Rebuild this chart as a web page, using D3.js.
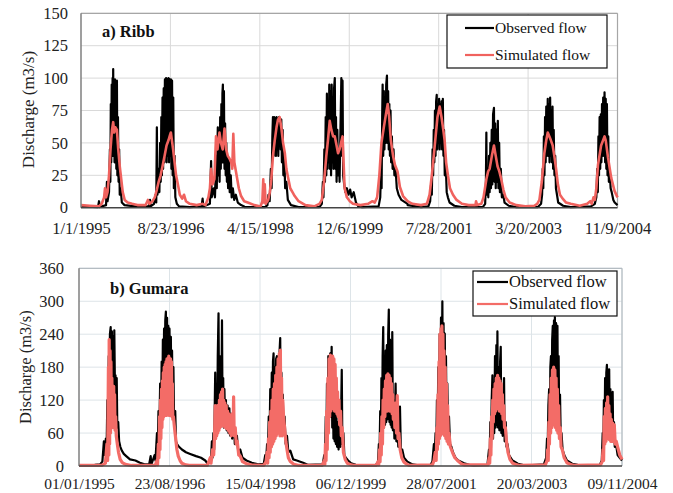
<!DOCTYPE html>
<html lang="en">
<head>
<meta charset="utf-8">
<style>
  body { margin: 0; background: white; }
  svg { font-family: "Liberation Serif", "Times New Roman", serif; display: block; }
  .grid line { stroke: #d9d9d9; stroke-width: 1; }
  .gridB line { stroke: #dde4e8; stroke-width: 1; }
  .axis text { fill: #222; }
</style>
</head>
<body>
<svg width="673" height="493"></svg>
<script src="https://d3js.org/d3.v7.min.js"></script>
<script>
// ---- data ([date, m3/s]) ----
const ribbObserved = [
  ["1995-01-01",1],["1995-04-25",0.5],["1995-05-02",5],["1995-05-06",0.5],["1995-06-18",2],["1995-06-24",20],["1995-06-28",5],["1995-07-08",12],["1995-07-14",45],["1995-07-17",20],["1995-07-20",80],["1995-07-23",35],["1995-07-26",95],["1995-07-29",45],["1995-08-01",100],["1995-08-03",40],["1995-08-05",107],["1995-08-08",45],["1995-08-11",98],["1995-08-14",35],["1995-08-17",99],["1995-08-20",40],["1995-08-23",95],["1995-08-26",30],["1995-08-30",98],["1995-09-02",25],["1995-09-06",70],["1995-09-10",20],["1995-09-14",45],["1995-09-18",10],["1995-09-24",15],["1995-10-02",4],["1995-10-20",2],["1995-12-31",1],
  ["1996-04-02",1],["1996-04-08",6],["1996-04-12",1],["1996-05-05",3],["1996-05-15",10],["1996-05-20",4],["1996-05-24",62],["1996-05-28",10],["1996-06-05",30],["1996-06-10",12],["1996-06-15",50],["1996-06-19",20],["1996-06-23",70],["1996-06-27",25],["1996-07-01",85],["1996-07-05",30],["1996-07-09",92],["1996-07-13",35],["1996-07-17",99],["1996-07-21",40],["1996-07-25",100],["1996-07-29",35],["1996-08-02",99],["1996-08-06",40],["1996-08-10",100],["1996-08-14",35],["1996-08-18",99],["1996-08-22",40],["1996-08-26",99],["1996-08-30",30],["1996-09-03",98],["1996-09-07",25],["1996-09-11",85],["1996-09-15",15],["1996-09-20",40],["1996-09-25",8],["1996-10-05",3],["1996-10-20",1],["1996-12-31",0.5],
  ["1997-03-20",1],["1997-03-27",7],["1997-04-01",1],["1997-05-15",3],["1997-05-23",36],["1997-05-27",8],["1997-06-10",15],["1997-06-18",8],["1997-06-26",40],["1997-06-30",15],["1997-07-04",45],["1997-07-07",62],["1997-07-11",25],["1997-07-15",55],["1997-07-19",20],["1997-07-23",70],["1997-07-27",30],["1997-07-31",80],["1997-08-04",35],["1997-08-07",88],["1997-08-10",95],["1997-08-13",35],["1997-08-17",90],["1997-08-21",30],["1997-08-25",65],["1997-08-29",25],["1997-09-02",50],["1997-09-06",20],["1997-09-10",40],["1997-09-14",15],["1997-09-20",38],["1997-09-25",12],["1997-10-02",25],["1997-10-08",8],["1997-10-16",15],["1997-10-25",6],["1997-11-05",10],["1997-11-18",4],["1997-12-10",2],["1997-12-31",1],
  ["1998-01-01",0.5],["1998-05-20",0.5],["1998-06-05",2],["1998-06-12",10],["1998-06-20",5],["1998-06-28",30],["1998-07-03",15],["1998-07-08",55],["1998-07-12",70],["1998-07-16",40],["1998-07-20",70],["1998-07-24",45],["1998-07-28",69],["1998-08-01",40],["1998-08-05",70],["1998-08-09",45],["1998-08-13",68],["1998-08-17",40],["1998-08-21",70],["1998-08-25",50],["1998-08-29",69],["1998-09-02",45],["1998-09-06",68],["1998-09-10",35],["1998-09-15",60],["1998-09-20",25],["1998-09-26",40],["1998-10-02",15],["1998-10-10",20],["1998-10-20",6],["1998-11-10",2],["1998-12-31",0.5],
  ["1999-01-01",0.5],["1999-05-20",0.5],["1999-06-05",3],["1999-06-12",20],["1999-06-16",8],["1999-06-22",45],["1999-06-26",20],["1999-07-01",70],["1999-07-05",25],["1999-07-09",88],["1999-07-13",30],["1999-07-17",80],["1999-07-21",35],["1999-07-25",95],["1999-07-29",30],["1999-08-02",90],["1999-08-06",25],["1999-08-10",95],["1999-08-14",35],["1999-08-18",85],["1999-08-22",30],["1999-08-26",92],["1999-08-31",100],["1999-09-04",30],["1999-09-08",70],["1999-09-12",20],["1999-09-17",60],["1999-09-22",25],["1999-09-28",45],["1999-10-02",20],["1999-10-08",60],["1999-10-14",100],["1999-10-18",40],["1999-10-22",98],["1999-10-26",25],["1999-11-02",18],["1999-11-10",12],["1999-11-20",15],["1999-12-01",10],["1999-12-12",14],["1999-12-22",8],["2000-01-05",12],["2000-01-20",4],["2000-02-05",1],
  ["2000-03-01",0.5],["2000-06-20",1],["2000-07-01",8],["2000-07-06",30],["2000-07-10",15],["2000-07-14",70],["2000-07-17",95],["2000-07-21",40],["2000-07-25",90],["2000-07-29",45],["2000-08-02",85],["2000-08-06",50],["2000-08-10",95],["2000-08-15",102],["2000-08-19",50],["2000-08-23",90],["2000-08-27",45],["2000-08-31",80],["2000-09-04",40],["2000-09-08",75],["2000-09-12",35],["2000-09-17",55],["2000-09-22",30],["2000-09-28",45],["2000-10-04",25],["2000-10-12",30],["2000-10-20",15],["2000-11-01",10],["2000-11-20",6],["2000-12-31",3],
  ["2001-01-01",2],["2001-04-01",0.5],["2001-05-20",1],["2001-06-01",5],["2001-06-08",20],["2001-06-12",10],["2001-06-17",45],["2001-06-21",25],["2001-06-25",60],["2001-06-29",35],["2001-07-03",75],["2001-07-07",40],["2001-07-11",82],["2001-07-15",87],["2001-07-19",45],["2001-07-23",80],["2001-07-27",50],["2001-07-31",84],["2001-08-04",45],["2001-08-08",80],["2001-08-12",50],["2001-08-16",82],["2001-08-20",45],["2001-08-25",84],["2001-08-29",40],["2001-09-02",60],["2001-09-07",25],["2001-09-13",35],["2001-09-20",12],["2001-09-28",8],["2001-10-09",4],["2001-11-10",1.5],["2001-12-31",0.5],
  ["2002-01-01",0.5],["2002-05-20",0.5],["2002-06-05",3],["2002-06-10",20],["2002-06-13",58],["2002-06-16",10],["2002-06-22",30],["2002-06-26",8],["2002-07-01",40],["2002-07-05",12],["2002-07-10",50],["2002-07-14",15],["2002-07-19",60],["2002-07-23",18],["2002-07-28",72],["2002-08-03",77],["2002-08-07",20],["2002-08-11",65],["2002-08-15",15],["2002-08-20",60],["2002-08-24",20],["2002-08-29",67],["2002-09-02",15],["2002-09-07",50],["2002-09-12",12],["2002-09-18",30],["2002-09-25",8],["2002-10-05",10],["2002-10-13",4],["2002-11-10",1.5],["2002-12-31",0.5],
  ["2003-01-01",0.5],["2003-05-25",0.5],["2003-06-15",3],["2003-06-22",10],["2003-06-26",30],["2003-06-30",15],["2003-07-04",55],["2003-07-08",25],["2003-07-12",70],["2003-07-16",35],["2003-07-20",78],["2003-07-24",40],["2003-07-30",84],["2003-08-03",40],["2003-08-07",80],["2003-08-11",35],["2003-08-15",85],["2003-08-19",40],["2003-08-23",75],["2003-08-27",35],["2003-08-31",78],["2003-09-04",30],["2003-09-08",60],["2003-09-13",25],["2003-09-18",40],["2003-09-23",15],["2003-09-30",10],["2003-10-08",4],["2003-11-10",1.5],["2003-12-31",0.5],
  ["2004-01-01",0.5],["2004-05-15",1],["2004-06-10",3],["2004-06-20",8],["2004-06-26",30],["2004-06-30",12],["2004-07-04",55],["2004-07-08",25],["2004-07-12",70],["2004-07-16",30],["2004-07-20",72],["2004-07-24",35],["2004-07-28",80],["2004-08-01",40],["2004-08-05",85],["2004-08-09",40],["2004-08-14",89],["2004-08-18",35],["2004-08-22",84],["2004-08-26",30],["2004-08-30",80],["2004-09-03",25],["2004-09-08",55],["2004-09-12",20],["2004-09-17",30],["2004-09-24",15],["2004-10-01",12],["2004-10-12",6],["2004-10-21",4],["2004-11-09",2]
];

const ribbSimulated = [
  ["1995-01-01",2],["1995-03-01",1.5],["1995-05-01",1],["1995-05-20",3],["1995-06-05",8],["1995-06-11",15],["1995-06-18",8],["1995-06-28",12],["1995-07-08",25],["1995-07-18",45],["1995-07-28",60],["1995-08-05",66],["1995-08-12",58],["1995-08-20",62],["1995-08-30",60],["1995-09-08",45],["1995-09-18",32],["1995-09-28",22],["1995-10-08",12],["1995-10-21",6],["1995-11-10",4],["1995-12-10",3],["1995-12-31",2.5],
  ["1996-01-15",2],["1996-03-10",2],["1996-03-25",6],["1996-04-05",3],["1996-04-25",5],["1996-05-10",8],["1996-05-24",14],["1996-06-05",20],["1996-06-18",25],["1996-07-01",32],["1996-07-15",40],["1996-07-28",48],["1996-08-10",52],["1996-08-20",56],["1996-08-26",58],["1996-09-02",52],["1996-09-10",45],["1996-09-20",35],["1996-09-30",25],["1996-10-12",18],["1996-10-25",10],["1996-11-10",7],["1996-11-22",10],["1996-12-05",5],["1996-12-31",3],
  ["1997-02-15",2],["1997-03-27",3],["1997-04-15",2],["1997-05-05",8],["1997-05-15",15],["1997-05-23",30],["1997-06-02",18],["1997-06-14",22],["1997-06-25",55],["1997-07-05",45],["1997-07-18",58],["1997-07-28",50],["1997-08-09",45],["1997-08-21",61],["1997-09-01",45],["1997-09-12",40],["1997-09-23",38],["1997-10-05",35],["1997-10-12",30],["1997-10-19",57],["1997-10-26",35],["1997-11-10",25],["1997-11-25",15],["1997-12-10",9],["1997-12-31",5],
  ["1998-01-24",4],["1998-03-10",2],["1998-04-20",1],["1998-05-02",5],["1998-05-08",22],["1998-05-12",4],["1998-05-18",18],["1998-05-24",3],["1998-06-10",6],["1998-06-21",12],["1998-07-01",22],["1998-07-12",40],["1998-07-24",52],["1998-08-05",62],["1998-08-15",68],["1998-08-26",70],["1998-09-06",62],["1998-09-18",50],["1998-09-30",42],["1998-10-10",30],["1998-10-20",24],["1998-11-05",15],["1998-11-20",12],["1998-12-05",9],["1998-12-31",5],
  ["1999-02-15",2],["1999-04-15",1],["1999-05-20",3],["1999-06-05",6],["1999-06-20",20],["1999-07-05",40],["1999-07-16",52],["1999-07-28",67],["1999-08-08",60],["1999-08-20",55],["1999-08-31",55],["1999-09-12",48],["1999-09-22",42],["1999-10-02",45],["1999-10-12",50],["1999-10-22",55],["1999-10-29",35],["1999-11-05",15],["1999-11-20",8],["1999-12-10",5],["1999-12-31",3],
  ["2000-02-20",2],["2000-04-10",3],["2000-05-10",5],["2000-05-25",4],["2000-06-10",8],["2000-06-25",25],["2000-07-09",50],["2000-07-25",62],["2000-08-08",72],["2000-08-20",80],["2000-08-30",70],["2000-09-10",52],["2000-09-25",40],["2000-10-08",33],["2000-10-25",28],["2000-11-10",16],["2000-12-01",9],["2000-12-31",5],
  ["2001-02-01",3],["2001-04-01",2],["2001-05-10",3],["2001-05-28",10],["2001-06-12",25],["2001-06-25",40],["2001-07-05",52],["2001-07-20",70],["2001-08-04",78],["2001-08-16",70],["2001-08-28",60],["2001-09-06",52],["2001-09-16",35],["2001-09-28",25],["2001-10-12",15],["2001-11-01",10],["2001-11-25",6],["2001-12-31",3],
  ["2002-02-15",2],["2002-04-01",2],["2002-04-05",5],["2002-04-12",2],["2002-05-10",3],["2002-05-25",8],["2002-06-13",22],["2002-06-25",28],["2002-07-05",30],["2002-07-20",40],["2002-08-03",48],["2002-08-15",40],["2002-08-27",32],["2002-09-08",28],["2002-09-21",22],["2002-10-05",14],["2002-10-20",8],["2002-11-16",4],["2002-12-31",2],
  ["2003-03-01",1],["2003-05-01",1.5],["2003-05-20",3],["2003-06-04",6],["2003-06-20",20],["2003-07-07",42],["2003-07-20",52],["2003-07-30",58],["2003-08-10",55],["2003-08-20",52],["2003-09-01",48],["2003-09-12",40],["2003-09-24",30],["2003-10-06",18],["2003-10-20",10],["2003-11-07",7],["2003-11-30",4],["2003-12-31",3],
  ["2004-03-01",1.5],["2004-04-20",3],["2004-05-10",5],["2004-05-20",3],["2004-06-01",8],["2004-06-10",6],["2004-06-20",15],["2004-07-01",33],["2004-07-22",48],["2004-08-14",55],["2004-08-22",52],["2004-09-06",39],["2004-09-28",23],["2004-10-20",13],["2004-11-09",8]
];

const gumaraObserved = [
  ["1995-01-01",0],["1995-03-01",1],["1995-04-15",2],["1995-05-20",3],["1995-06-05",8],["1995-06-15",45],["1995-06-20",20],["1995-06-28",50],["1995-07-03",30],["1995-07-08",120],["1995-07-12",60],["1995-07-17",200],["1995-07-21",100],["1995-07-25",240],["1995-07-30",253],["1995-08-03",120],["1995-08-07",245],["1995-08-11",110],["1995-08-15",235],["1995-08-19",100],["1995-08-23",247],["1995-08-27",150],["1995-08-31",165],["1995-09-04",90],["1995-09-08",160],["1995-09-12",70],["1995-09-18",80],["1995-09-24",45],["1995-10-02",35],["1995-10-12",28],["1995-10-25",22],["1995-11-10",18],["1995-12-05",12],["1996-01-10",10],["1996-02-09",6],["1996-03-10",3],
  ["1996-04-10",3],["1996-04-20",18],["1996-04-25",3],["1996-05-16",20],["1996-05-22",10],["1996-06-01",60],["1996-06-06",30],["1996-06-11",100],["1996-06-16",50],["1996-06-22",150],["1996-06-27",80],["1996-07-02",190],["1996-07-06",100],["1996-07-10",230],["1996-07-14",120],["1996-07-18",250],["1996-07-22",130],["1996-07-26",265],["1996-07-30",281],["1996-08-03",140],["1996-08-07",270],["1996-08-11",130],["1996-08-15",255],["1996-08-19",120],["1996-08-23",250],["1996-08-28",110],["1996-09-01",235],["1996-09-05",100],["1996-09-09",210],["1996-09-13",90],["1996-09-18",180],["1996-09-23",70],["1996-09-30",100],["1996-10-05",45],["1996-10-12",40],["1996-10-25",35],["1996-11-13",30],["1996-12-10",25],["1997-01-07",22],["1997-02-15",18],["1997-03-20",15],["1997-04-17",10],["1997-05-01",5],
  ["1997-05-25",10],["1997-05-31",45],["1997-06-04",15],["1997-06-10",60],["1997-06-15",30],["1997-06-22",170],["1997-06-26",60],["1997-07-01",150],["1997-07-05",70],["1997-07-09",200],["1997-07-14",278],["1997-07-18",100],["1997-07-22",200],["1997-07-26",90],["1997-07-30",180],["1997-08-02",100],["1997-08-06",265],["1997-08-10",80],["1997-08-14",160],["1997-08-18",70],["1997-08-22",140],["1997-08-27",80],["1997-09-01",120],["1997-09-06",65],["1997-09-12",110],["1997-09-18",60],["1997-09-24",105],["1997-09-30",55],["1997-10-06",95],["1997-10-12",50],["1997-10-22",85],["1997-10-30",40],["1997-11-13",55],["1997-11-22",25],["1997-12-05",30],["1997-12-20",15],["1998-01-15",10],["1998-02-20",6],["1998-03-20",4],
  ["1998-04-01",3],["1998-05-10",4],["1998-05-20",20],["1998-05-25",8],["1998-06-01",40],["1998-06-06",20],["1998-06-12",90],["1998-06-17",40],["1998-06-22",140],["1998-06-27",60],["1998-07-02",170],["1998-07-06",70],["1998-07-10",190],["1998-07-14",205],["1998-07-18",80],["1998-07-22",180],["1998-07-26",85],["1998-07-31",195],["1998-08-05",200],["1998-08-09",85],["1998-08-14",180],["1998-08-18",80],["1998-08-23",210],["1998-08-27",233],["1998-08-31",85],["1998-09-04",170],["1998-09-08",75],["1998-09-13",130],["1998-09-18",60],["1998-09-25",90],["1998-10-02",40],["1998-10-11",55],["1998-10-20",25],["1998-11-02",28],["1998-11-21",12],["1998-12-15",10],["1999-01-26",6],["1999-03-01",2],
  ["1999-06-05",3],["1999-06-15",20],["1999-06-20",10],["1999-06-25",90],["1999-06-29",40],["1999-07-03",150],["1999-07-07",60],["1999-07-12",200],["1999-07-16",80],["1999-07-20",190],["1999-07-25",205],["1999-07-29",90],["1999-08-03",217],["1999-08-07",70],["1999-08-11",150],["1999-08-15",50],["1999-08-19",120],["1999-08-23",45],["1999-08-27",100],["1999-08-31",40],["1999-09-04",90],["1999-09-08",35],["1999-09-13",80],["1999-09-18",30],["1999-09-24",70],["1999-09-30",35],["1999-10-05",100],["1999-10-09",175],["1999-10-13",40],["1999-10-20",60],["1999-10-26",20],["1999-11-05",15],["1999-11-20",10],["1999-12-10",5],["2000-01-10",2],
  ["2000-03-01",1],["2000-05-20",2],["2000-06-05",5],["2000-06-11",40],["2000-06-15",15],["2000-06-20",100],["2000-06-24",40],["2000-06-28",160],["2000-07-02",60],["2000-07-06",200],["2000-07-10",253],["2000-07-14",70],["2000-07-18",180],["2000-07-22",75],["2000-07-26",210],["2000-07-30",80],["2000-08-03",220],["2000-08-07",85],["2000-08-12",240],["2000-08-16",285],["2000-08-20",80],["2000-08-24",230],["2000-08-28",75],["2000-09-01",200],["2000-09-04",70],["2000-09-08",244],["2000-09-12",65],["2000-09-17",120],["2000-09-22",50],["2000-09-30",150],["2000-10-05",45],["2000-10-12",80],["2000-10-18",35],["2000-10-29",108],["2000-11-04",25],["2000-11-13",30],["2000-11-25",15],["2000-12-17",8],["2001-01-20",3],
  ["2001-03-01",1],["2001-05-20",2],["2001-06-01",8],["2001-06-11",40],["2001-06-15",10],["2001-06-22",60],["2001-06-26",25],["2001-07-01",120],["2001-07-05",50],["2001-07-10",180],["2001-07-14",80],["2001-07-19",240],["2001-07-23",100],["2001-07-28",270],["2001-08-01",110],["2001-08-06",300],["2001-08-10",120],["2001-08-14",260],["2001-08-18",110],["2001-08-22",241],["2001-08-26",100],["2001-08-30",200],["2001-09-03",80],["2001-09-08",150],["2001-09-13",60],["2001-09-19",90],["2001-09-26",40],["2001-10-05",35],["2001-10-15",25],["2001-11-01",15],["2001-11-20",10],["2001-12-28",5],["2002-02-01",2],
  ["2002-03-01",1],["2002-06-01",2],["2002-06-11",30],["2002-06-15",10],["2002-06-20",80],["2002-06-24",30],["2002-06-29",120],["2002-07-04",165],["2002-07-08",50],["2002-07-12",150],["2002-07-16",60],["2002-07-21",200],["2002-07-25",70],["2002-07-30",220],["2002-08-03",75],["2002-08-06",245],["2002-08-10",70],["2002-08-15",180],["2002-08-19",65],["2002-08-24",190],["2002-08-28",217],["2002-09-01",60],["2002-09-06",130],["2002-09-10",55],["2002-09-15",120],["2002-09-19",160],["2002-09-23",45],["2002-09-30",80],["2002-10-05",35],["2002-10-12",40],["2002-10-22",20],["2002-11-14",10],["2002-12-20",4],["2003-01-20",2],
  ["2003-03-01",1],["2003-06-10",3],["2003-06-25",15],["2003-07-01",50],["2003-07-05",25],["2003-07-10",110],["2003-07-15",140],["2003-07-19",60],["2003-07-23",180],["2003-07-27",200],["2003-07-31",80],["2003-08-04",230],["2003-08-08",255],["2003-08-12",90],["2003-08-16",265],["2003-08-20",100],["2003-08-22",271],["2003-08-26",95],["2003-08-30",260],["2003-09-03",90],["2003-09-08",255],["2003-09-12",80],["2003-09-16",200],["2003-09-20",70],["2003-09-25",130],["2003-09-30",50],["2003-10-05",60],["2003-10-12",30],["2003-10-23",20],["2003-11-10",10],["2003-12-15",4],["2004-01-20",2],
  ["2004-03-01",1],["2004-06-15",2],["2004-06-28",10],["2004-07-04",60],["2004-07-08",30],["2004-07-12",120],["2004-07-16",50],["2004-07-20",160],["2004-07-24",60],["2004-07-28",170],["2004-08-01",184],["2004-08-05",65],["2004-08-09",175],["2004-08-13",60],["2004-08-16",176],["2004-08-20",55],["2004-08-24",140],["2004-08-28",50],["2004-09-02",110],["2004-09-08",135],["2004-09-12",45],["2004-09-17",80],["2004-09-22",35],["2004-09-30",40],["2004-10-11",20],["2004-10-25",15],["2004-11-09",10]
];

const gumaraSimulated = [
  ["1995-01-01",1],["1995-06-01",1],["1995-06-25",5],["1995-07-05",40],["1995-07-10",10],["1995-07-15",180],["1995-07-18",20],["1995-07-20",230],["1995-07-23",40],["1995-07-26",210],["1995-07-29",60],["1995-08-01",190],["1995-08-04",70],["1995-08-07",160],["1995-08-10",70],["1995-08-13",140],["1995-08-16",72],["1995-08-19",145],["1995-08-22",70],["1995-08-25",130],["1995-08-28",65],["1995-09-01",90],["1995-09-05",55],["1995-09-12",40],["1995-09-20",25],["1995-10-01",12],["1995-10-15",6],["1995-11-05",3],["1995-12-15",1],
  ["1996-01-01",1],["1996-05-20",1],["1996-06-01",10],["1996-06-05",2],["1996-06-10",40],["1996-06-14",15],["1996-06-18",90],["1996-06-21",30],["1996-06-24",120],["1996-06-27",50],["1996-07-01",140],["1996-07-04",70],["1996-07-07",155],["1996-07-10",85],["1996-07-13",170],["1996-07-16",90],["1996-07-19",180],["1996-07-22",92],["1996-07-25",185],["1996-07-28",92],["1996-07-31",190],["1996-08-03",92],["1996-08-06",195],["1996-08-09",93],["1996-08-12",195],["1996-08-15",93],["1996-08-18",200],["1996-08-21",92],["1996-08-24",195],["1996-08-27",92],["1996-08-30",195],["1996-09-02",92],["1996-09-05",190],["1996-09-08",90],["1996-09-11",150],["1996-09-14",85],["1996-09-18",90],["1996-09-25",70],["1996-10-03",50],["1996-10-11",30],["1996-10-20",18],["1996-11-01",10],["1996-11-13",5],["1996-12-10",2],["1996-12-31",1],
  ["1997-05-01",1],["1997-05-20",15],["1997-05-25",5],["1997-06-05",30],["1997-06-12",20],["1997-06-18",60],["1997-06-22",110],["1997-06-25",50],["1997-06-28",105],["1997-07-02",55],["1997-07-06",110],["1997-07-09",60],["1997-07-14",110],["1997-07-17",65],["1997-07-20",120],["1997-07-23",70],["1997-07-27",130],["1997-07-30",72],["1997-08-03",135],["1997-08-06",75],["1997-08-10",140],["1997-08-13",75],["1997-08-17",120],["1997-08-20",72],["1997-08-25",115],["1997-08-29",70],["1997-09-03",110],["1997-09-07",68],["1997-09-12",100],["1997-09-16",65],["1997-09-22",95],["1997-09-27",60],["1997-10-02",85],["1997-10-07",55],["1997-10-13",95],["1997-10-18",60],["1997-10-22",126],["1997-10-26",55],["1997-11-02",70],["1997-11-08",40],["1997-11-15",45],["1997-11-25",20],["1997-12-05",18],["1997-12-20",8],["1998-01-17",4],["1998-02-15",2],
  ["1998-05-10",1],["1998-05-25",8],["1998-06-01",25],["1998-06-05",5],["1998-06-10",50],["1998-06-14",15],["1998-06-18",80],["1998-06-22",25],["1998-06-26",100],["1998-06-30",35],["1998-07-04",120],["1998-07-08",40],["1998-07-12",140],["1998-07-16",45],["1998-07-20",150],["1998-07-24",50],["1998-07-28",165],["1998-08-01",55],["1998-08-05",180],["1998-08-09",60],["1998-08-13",195],["1998-08-17",60],["1998-08-21",205],["1998-08-25",55],["1998-08-28",211],["1998-09-01",60],["1998-09-05",160],["1998-09-09",55],["1998-09-13",120],["1998-09-18",90],["1998-09-25",70],["1998-10-03",45],["1998-10-11",30],["1998-10-20",15],["1998-11-02",8],["1998-11-25",3],["1998-12-31",1],
  ["1999-06-01",1],["1999-06-15",10],["1999-06-19",3],["1999-06-23",40],["1999-06-27",10],["1999-07-01",100],["1999-07-05",30],["1999-07-09",160],["1999-07-13",60],["1999-07-17",195],["1999-07-21",90],["1999-07-25",202],["1999-07-29",100],["1999-08-02",200],["1999-08-06",105],["1999-08-10",200],["1999-08-14",105],["1999-08-18",195],["1999-08-22",100],["1999-08-26",185],["1999-08-30",100],["1999-09-03",160],["1999-09-07",95],["1999-09-11",135],["1999-09-15",90],["1999-09-20",120],["1999-09-25",75],["1999-10-01",100],["1999-10-06",55],["1999-10-12",70],["1999-10-20",25],["1999-11-01",12],["1999-11-15",5],["1999-12-10",2],["1999-12-31",1],
  ["2000-05-25",1],["2000-06-05",8],["2000-06-10",2],["2000-06-15",30],["2000-06-19",8],["2000-06-23",60],["2000-06-27",20],["2000-07-01",90],["2000-07-05",40],["2000-07-09",120],["2000-07-13",70],["2000-07-17",140],["2000-07-21",90],["2000-07-25",155],["2000-07-29",100],["2000-08-02",165],["2000-08-06",100],["2000-08-10",168],["2000-08-14",102],["2000-08-18",165],["2000-08-22",100],["2000-08-26",160],["2000-08-30",100],["2000-09-03",150],["2000-09-07",95],["2000-09-11",130],["2000-09-15",85],["2000-09-20",110],["2000-09-25",70],["2000-10-01",115],["2000-10-06",60],["2000-10-11",128],["2000-10-16",50],["2000-10-22",60],["2000-10-30",30],["2000-11-10",15],["2000-11-25",7],["2000-12-15",3],["2000-12-31",1],
  ["2001-06-01",2],["2001-06-12",10],["2001-06-20",25],["2001-06-26",10],["2001-07-01",70],["2001-07-04",30],["2001-07-08",130],["2001-07-11",40],["2001-07-15",190],["2001-07-18",50],["2001-07-21",240],["2001-07-24",55],["2001-07-28",250],["2001-07-31",60],["2001-08-03",255],["2001-08-06",60],["2001-08-10",240],["2001-08-13",58],["2001-08-17",210],["2001-08-21",55],["2001-08-25",180],["2001-08-29",50],["2001-09-02",150],["2001-09-06",45],["2001-09-10",110],["2001-09-15",40],["2001-09-19",60],["2001-09-28",35],["2001-10-12",25],["2001-10-28",15],["2001-11-14",10],["2001-12-10",4],["2001-12-31",2],
  ["2002-06-05",2],["2002-06-12",15],["2002-06-16",5],["2002-06-20",50],["2002-06-24",20],["2002-06-28",90],["2002-07-02",50],["2002-07-06",120],["2002-07-10",80],["2002-07-14",140],["2002-07-18",95],["2002-07-22",150],["2002-07-26",100],["2002-07-30",160],["2002-08-03",105],["2002-08-07",165],["2002-08-11",105],["2002-08-15",160],["2002-08-19",100],["2002-08-23",155],["2002-08-27",100],["2002-08-31",150],["2002-09-04",95],["2002-09-08",130],["2002-09-12",85],["2002-09-17",110],["2002-09-22",70],["2002-09-28",70],["2002-10-05",45],["2002-10-15",25],["2002-10-28",12],["2002-11-15",5],["2002-12-15",2],["2002-12-31",1],
  ["2003-06-20",2],["2003-07-01",10],["2003-07-05",30],["2003-07-09",10],["2003-07-13",80],["2003-07-17",40],["2003-07-21",130],["2003-07-25",60],["2003-07-29",160],["2003-08-02",70],["2003-08-06",175],["2003-08-10",75],["2003-08-14",180],["2003-08-18",75],["2003-08-22",175],["2003-08-26",70],["2003-08-30",160],["2003-09-03",65],["2003-09-07",140],["2003-09-11",60],["2003-09-16",110],["2003-09-21",50],["2003-09-27",70],["2003-10-02",35],["2003-10-10",30],["2003-10-23",15],["2003-11-10",6],["2003-12-10",2],["2003-12-31",1],
  ["2004-06-20",2],["2004-07-01",8],["2004-07-06",30],["2004-07-10",10],["2004-07-14",90],["2004-07-18",40],["2004-07-22",105],["2004-07-26",45],["2004-07-30",115],["2004-08-03",50],["2004-08-06",126],["2004-08-10",50],["2004-08-14",110],["2004-08-18",48],["2004-08-22",95],["2004-08-26",45],["2004-08-30",85],["2004-09-03",45],["2004-09-08",78],["2004-09-12",45],["2004-09-19",75],["2004-09-25",40],["2004-10-02",45],["2004-10-11",35],["2004-10-25",20],["2004-11-09",12]
];

// ---- axes ----
const tickDates = ["1995-01-01","1996-08-23","1998-04-15","1999-12-06","2001-07-28","2003-03-20","2004-11-09"];
const ribbTickLabels = ["1/1/1995","8/23/1996","4/15/1998","12/6/1999","7/28/2001","3/20/2003","11/9/2004"];
const gumaraTickLabels = ["01/01/1995","23/08/1996","15/04/1998","06/12/1999","28/07/2001","20/03/2003","09/11/2004"];
const ribbYTicks = [0, 25, 50, 75, 100, 125, 150];
const gumaraYTicks = [0, 60, 120, 180, 240, 300, 360];
const legendLabels = ["Observed flow", "Simulated flow"];

const parse = d3.utcParse("%Y-%m-%d");
const svg = d3.select("svg");

function drawPanel(p) {
  const g = svg.append("g");
  const x = d3.scaleUtc()
    .domain([parse(tickDates[0]), parse(tickDates[tickDates.length - 1])])
    .range([p.left, p.right]);
  const y = d3.scaleLinear().domain([0, p.yTicks[p.yTicks.length - 1]]).range([p.bottom, p.top]);

  // grid
  const grid = g.append("g").attr("class", p.gridClass);
  grid.selectAll("line.h").data(p.yTicks.slice(1)).join("line")
    .attr("x1", p.left).attr("x2", p.right)
    .attr("y1", d => y(d)).attr("y2", d => y(d));
  grid.selectAll("line.v").data(tickDates.slice(1)).join("line")
    .attr("x1", d => x(parse(d))).attr("x2", d => x(parse(d)))
    .attr("y1", p.top).attr("y2", p.bottom);
  g.append("line").attr("x1", p.left).attr("x2", p.right).attr("y1", p.top).attr("y2", p.top)
    .attr("stroke", p.frame).attr("stroke-width", 1.2);
  g.append("line").attr("x1", p.right).attr("x2", p.right).attr("y1", p.top).attr("y2", p.bottom)
    .attr("stroke", p.frame).attr("stroke-width", 1.2);

  // series
  const line = d3.line().x(d => x(parse(d[0]))).y(d => y(d[1]));
  g.append("path").datum(p.obs).attr("fill", "none").attr("stroke", "#000")
    .attr("stroke-width", p.obsWidth).attr("stroke-linejoin", "round").attr("d", line);
  g.append("path").datum(p.sim).attr("fill", "none").attr("stroke", p.red)
    .attr("stroke-width", p.simWidth).attr("stroke-linejoin", "round").attr("d", line);

  // axes
  g.append("line").attr("x1", p.left).attr("x2", p.left).attr("y1", p.top).attr("y2", p.bottom)
    .attr("stroke", "#7f7f7f").attr("stroke-width", 1.5);
  g.append("line").attr("x1", p.left).attr("x2", p.right).attr("y1", p.bottom).attr("y2", p.bottom)
    .attr("stroke", "#444").attr("stroke-width", 1.5);

  const yAxis = d3.axisLeft(y).tickValues(p.yTicks).tickSize(0).tickPadding(p.yPad);
  g.append("g").attr("class", "axis").attr("transform", `translate(${p.left},0)`).call(yAxis)
    .call(s => s.select(".domain").remove())
    .selectAll("text").style("font-size", p.fs + "px");

  const xAxis = d3.axisBottom(x).tickValues(tickDates.map(parse)).tickSize(0).tickPadding(p.xPad)
    .tickFormat((d, i) => p.xLabels[i]);
  g.append("g").attr("class", "axis").attr("transform", `translate(0,${p.bottom})`).call(xAxis)
    .call(s => s.select(".domain").remove())
    .selectAll("text").style("font-size", p.xfs + "px");
  g.selectAll(".axis").attr("font-family", null);

  g.append("text")
    .attr("transform", `translate(${p.yLabelX},${(p.top + p.bottom) / 2 + p.yLabelShift}) rotate(-90)`)
    .attr("text-anchor", "middle").style("font-size", p.yLabelSize + "px").attr("fill", "#222")
    .text("Discharge (m3/s)");

  g.append("text").attr("x", p.titleX).attr("y", p.titleY)
    .style("font-size", p.titleSize + "px").style("font-weight", "bold").attr("fill", "#111")
    .text(p.title);

  // legend
  const L = p.legend;
  g.append("rect").attr("x", L.x).attr("y", L.y).attr("width", L.w).attr("height", L.h)
    .attr("fill", "white").attr("stroke", "#111").attr("stroke-width", 1.2);
  const colors = ["#000", p.red];
  legendLabels.forEach((lab, i) => {
    const ly = L.y + L.row0 + i * L.step;
    g.append("line").attr("x1", L.x + L.l0).attr("x2", L.x + L.l1).attr("y1", ly).attr("y2", ly)
      .attr("stroke", colors[i]).attr("stroke-width", 2.2);
    g.append("text").attr("x", L.x + L.l1 + 1).attr("y", ly + L.fs * 0.33)
      .style("font-size", L.fs + "px").attr("fill", "#111").text(lab);
  });
}

drawPanel({
  left: 81, right: 617.5, top: 13.3, bottom: 207.7,
  yTicks: ribbYTicks, xLabels: ribbTickLabels,
  obs: ribbObserved, sim: ribbSimulated,
  gridClass: "grid", frame: "#a6a6a6", red: "#f0625e",
  obsWidth: 2.2, simWidth: 2.6,
  fs: 16.5, xfs: 16.5, yPad: 13, xPad: 15,
  yLabelX: 34, yLabelShift: -1, yLabelSize: 17,
  title: "a) Ribb", titleX: 102, titleY: 37, titleSize: 16.5,
  legend: { x: 447, y: 15, w: 160, h: 53, row0: 13, step: 27, l0: 18, l1: 47, fs: 15.5 }
});

drawPanel({
  left: 79, right: 622, top: 268.3, bottom: 466,
  yTicks: gumaraYTicks, xLabels: gumaraTickLabels,
  obs: gumaraObserved, sim: gumaraSimulated,
  gridClass: "gridB", frame: "#b4bcc2", red: "#f36c67",
  obsWidth: 2.2, simWidth: 3.2,
  fs: 16.5, xfs: 15.5, yPad: 15, xPad: 12,
  yLabelX: 31, yLabelShift: 0, yLabelSize: 16.5,
  title: "b) Gumara", titleX: 110, titleY: 294, titleSize: 16.5,
  legend: { x: 473, y: 271, w: 144, h: 45, row0: 11, step: 22, l0: 4, l1: 35, fs: 16.5 }
});
</script>
</body>
</html>
